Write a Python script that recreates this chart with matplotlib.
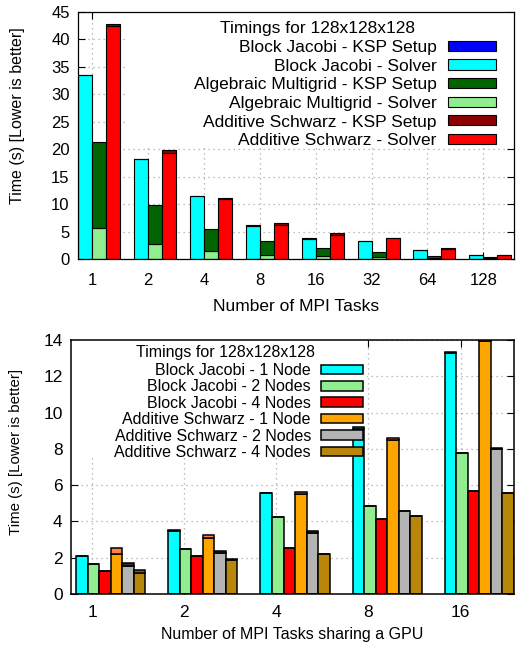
import matplotlib
matplotlib.use('Agg')
import matplotlib.pyplot as plt
from matplotlib.patches import Patch, Rectangle
import numpy as np

plt.rcParams['font.family'] = ['Liberation Sans', 'DejaVu Sans']

# ---------------- data: top chart ----------------
procs = ['1', '2', '4', '8', '16', '32', '64', '128']
bj_setup = [0.05, 0.05, 0.05, 0.05, 0.05, 0.05, 0.03, 0.03]
bj_solver = [33.5, 18.2, 11.4, 6.1, 3.7, 3.2, 1.6, 0.7]
amg_setup = [15.7, 7.0, 4.05, 2.4, 1.55, 0.9, 0.4, 0.25]
amg_solver = [5.7, 2.8, 1.45, 0.8, 0.5, 0.45, 0.15, 0.1]
as_setup = [0.3, 0.45, 0.3, 0.35, 0.4, 0.15, 0.1, 0.05]
as_solver = [42.5, 19.4, 10.9, 6.2, 4.3, 3.75, 1.85, 0.7]
top_labels = ['Block Jacobi - KSP Setup', 'Block Jacobi - Solver',
              'Algebraic Multigrid - KSP Setup', 'Algebraic Multigrid - Solver',
              'Additive Schwarz - KSP Setup', 'Additive Schwarz - Solver']

# ---------------- data: bottom chart ----------------
tasks = ['1', '2', '4', '8', '16']
bj_1node = [2.1, 3.5, 5.55, 9.1, 13.3]
bj_1node_setup = [0.02, 0.02, 0.02, 0.1, 0.03]
bj_2nodes = [1.64, 2.5, 4.24, 4.87, 7.79]
bj_2nodes_setup = [0.0, 0.0, 0.0, 0.0, 0.0]
bj_4nodes = [1.27, 2.09, 2.54, 4.12, 5.68]
bj_4nodes_setup = [0.0, 0.0, 0.0, 0.0, 0.0]
as_1node = [2.19, 3.07, 5.49, 8.49, 13.95]
as_1node_setup = [0.35, 0.2, 0.15, 0.13, 0.2]
as_2nodes = [1.54, 2.24, 3.35, 4.55, 8.0]
as_2nodes_setup = [0.19, 0.15, 0.12, 0.05, 0.05]
as_4nodes = [1.16, 1.9, 2.2, 4.28, 5.55]
as_4nodes_setup = [0.14, 0.03, 0.03, 0.03, 0.03]
bottom_labels = ['Block Jacobi - 1 Node', 'Block Jacobi - 2 Nodes', 'Block Jacobi - 4 Nodes',
                 'Additive Schwarz - 1 Node', 'Additive Schwarz - 2 Nodes',
                 'Additive Schwarz - 4 Nodes']
title_text = 'Timings for 128x128x128'

W, H = 516, 646
fig = plt.figure(figsize=(W / 100, H / 100), dpi=100)


def rect(l, t, r, b):
    return [l / W, 1 - b / H, (r - l) / W, (b - t) / H]


GRID = dict(color='#a8a8a8', linestyle=(0, (1, 3)), linewidth=0.9)

# ================= TOP =================
ax = fig.add_axes(rect(78, 12, 514, 259))
x = np.arange(len(procs))
w = 0.25
ec = 'black'
lw = 0.8
ax.bar(x - 0.125, bj_solver, w, color='#00ffff', edgecolor=ec, linewidth=lw, zorder=2)
ax.bar(x - 0.125, bj_setup, w, bottom=bj_solver, color='#0000ff', edgecolor=ec, linewidth=lw, zorder=2)
ax.bar(x + 0.125, amg_solver, w, color='#90ee90', edgecolor=ec, linewidth=lw, zorder=2)
ax.bar(x + 0.125, amg_setup, w, bottom=amg_solver, color='#006400', edgecolor=ec, linewidth=lw, zorder=2)
ax.bar(x + 0.375, as_solver, w, color='#ff0000', edgecolor=ec, linewidth=lw, zorder=2)
ax.bar(x + 0.375, as_setup, w, bottom=as_solver, color='#8b0000', edgecolor=ec, linewidth=lw, zorder=2)
ax.set_xlim(-0.257, 7.55)
ax.set_ylim(0, 45)
ax.set_yticks(np.arange(0, 46, 5))
ax.set_xticks(x)
ax.set_xticklabels(procs)
ax.tick_params(direction='in', length=5, width=0.8, top=True, right=True, labelsize=12, pad=6)
ax.tick_params(axis='x', pad=10)
ax.set_axisbelow(True)
ax.grid(True, **GRID)
ax.add_patch(Rectangle((128 / W, 1 - 146 / H), (514 - 128) / W, (146 - 12) / H,
                       transform=fig.transFigure, facecolor='white', edgecolor='none', zorder=1))
ax.set_ylabel('Time (s) [Lower is better]', fontsize=11.5)
ax.yaxis.set_label_coords(-0.122, 0.58)
ax.set_xlabel('Number of MPI Tasks', fontsize=12.5)
ax.xaxis.set_label_coords(0.5, -0.162)
for s in ax.spines.values():
    s.set_linewidth(0.9)

handles = [Patch(facecolor=c, edgecolor='black', linewidth=0.8) for c in
           ['#0000ff', '#00ffff', '#006400', '#90ee90', '#8b0000', '#ff0000']]
fs = 12.5
leg = ax.legend(handles, top_labels, loc='upper right', bbox_to_anchor=(496 / W, 1 - 40 / H),
                bbox_transform=fig.transFigure, frameon=False, markerfirst=False, fontsize=fs,
                handlelength=48 / (fs * 100 / 72), handleheight=9 / (fs * 100 / 72),
                handletextpad=0.65, labelspacing=0.21, borderpad=0, borderaxespad=0)
leg.set_zorder(5)
fig.text(317 / W, 1 - 29 / H, title_text, ha='center', va='center', fontsize=fs)

# ================= BOTTOM =================
ax2 = fig.add_axes(rect(71, 340, 514, 594))
x2 = np.arange(len(tasks))
w2 = 0.125
off0 = -0.11
series = [
    (bj_1node, bj_1node_setup, '#00ffff', '#008b8b'),
    (bj_2nodes, bj_2nodes_setup, '#90ee90', '#2e8b57'),
    (bj_4nodes, bj_4nodes_setup, '#ff0000', '#8b0000'),
    (as_1node, as_1node_setup, '#ffa500', '#ff7f50'),
    (as_2nodes, as_2nodes_setup, '#b4b4b4', '#303030'),
    (as_4nodes, as_4nodes_setup, '#b8860b', '#6b5f2a'),
]
lw2 = 1.1
for i, (base, top, c, ct) in enumerate(series):
    pos = x2 + off0 + w2 * i
    ax2.bar(pos, base, w2, color=c, edgecolor='black', linewidth=lw2, zorder=2)
    ax2.bar(pos, top, w2, bottom=base, color=ct, edgecolor='black', linewidth=lw2, zorder=2)
ax2.set_xlim(-0.23, 4.58)
ax2.set_ylim(0, 14)
ax2.set_yticks(np.arange(0, 15, 2))
ax2.set_xticks(x2)
ax2.set_xticklabels(tasks)
ax2.tick_params(direction='in', length=5, width=0.8, top=True, right=True, labelsize=12.5, pad=6)
ax2.tick_params(axis='x', pad=8)
ax2.set_axisbelow(True)
ax2.grid(True, **GRID)
ax2.add_patch(Rectangle((71 / W, 1 - 455 / H), (367 - 71) / W, (455 - 340) / H,
                        transform=fig.transFigure, facecolor='white', edgecolor='none', zorder=1))
ax2.set_ylabel('Time (s) [Lower is better]', fontsize=10.8)
ax2.yaxis.set_label_coords(-0.108, 0.56)
ax2.set_xlabel('Number of MPI Tasks sharing a GPU', fontsize=11.5)
ax2.xaxis.set_label_coords(0.5, -0.13)
for s in ax2.spines.values():
    s.set_linewidth(1.1)

handles2 = [Patch(facecolor=c, edgecolor='black', linewidth=1.1) for _, _, c, _ in series]
fs2 = 11.5
leg2 = ax2.legend(handles2, bottom_labels, loc='upper right', bbox_to_anchor=(363 / W, 1 - 363 / H),
                  bbox_transform=fig.transFigure, frameon=False, markerfirst=False, fontsize=fs2,
                  handlelength=42 / (fs2 * 100 / 72), handleheight=8.7 / (fs2 * 100 / 72),
                  handletextpad=0.63, labelspacing=0.09, borderpad=0, borderaxespad=0)
leg2.set_zorder(5)
fig.text(226 / W, 1 - 353 / H, title_text, ha='center', va='center', fontsize=fs2)

fig.savefig('out.png', dpi=100)
